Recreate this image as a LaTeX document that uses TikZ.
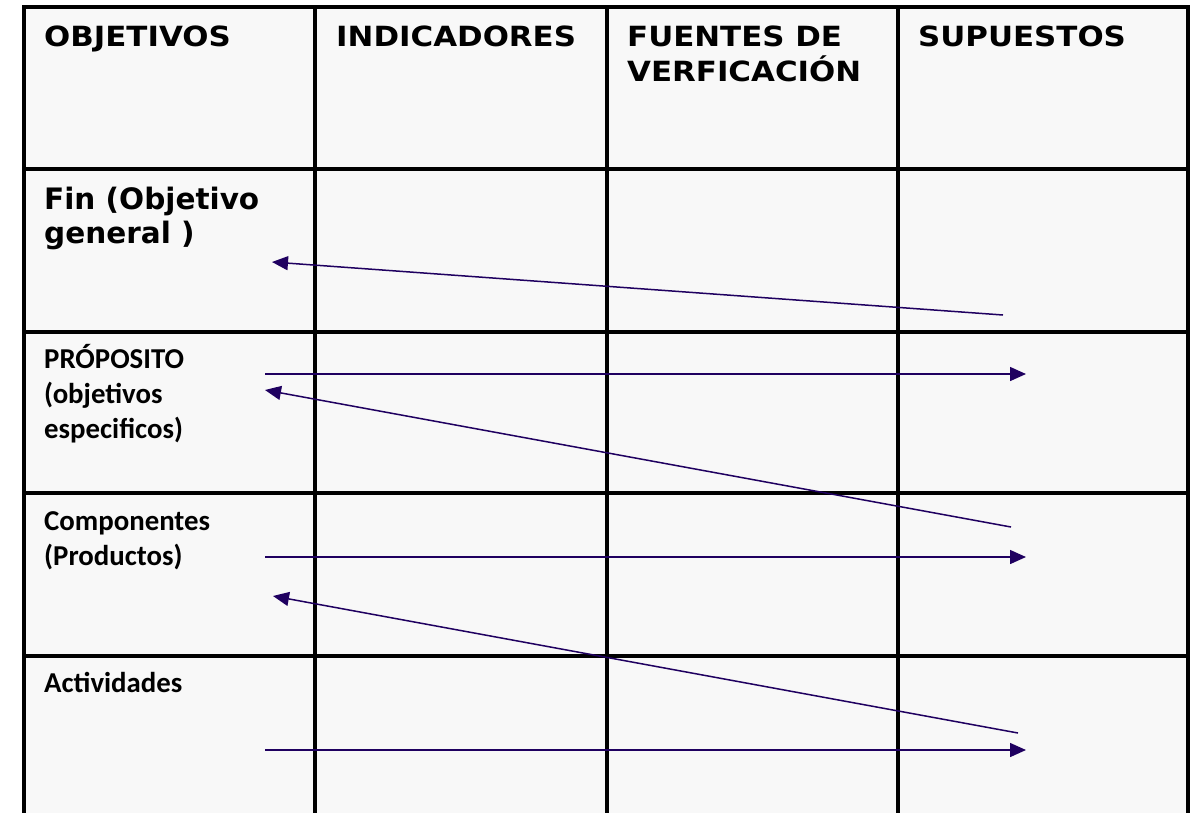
\documentclass[tikz,border=0pt]{standalone}
\usepackage{fontspec}
\usetikzlibrary{arrows.meta}
\newfontfamily\hdrfont{DejaVu Sans}[FakeStretch=1.11]
\newfontfamily\finfont{DejaVu Sans}
\newfontfamily\calfont{Carlito}
\definecolor{cellbg}{RGB}{248,248,248}
\definecolor{arrowc}{RGB}{31,0,96}
\tikzset{
  grid/.style={line width=3.3pt, black},
  hdr/.style={anchor=base west, inner sep=0pt, align=left, font=\hdrfont\bfseries\fontsize{27.8}{35}\selectfont},
  fin/.style={anchor=base west, inner sep=0pt, align=left, font=\finfont\bfseries\fontsize{29.5}{34}\selectfont},
  cal/.style={anchor=base west, inner sep=0pt, align=left, font=\calfont\bfseries\fontsize{28.8}{35}\selectfont},
  link/.style={arrowc, line width=1.5pt, -{Triangle[length=16pt,width=14pt]}},
}
\begin{document}
\begin{tikzpicture}[x=1pt,y=-1pt]
\useasboundingbox (0,0) rectangle (1190,812);
\begin{scope}
\clip (0,0) rectangle (1190,812);
\fill[cellbg] (24,7) rectangle (1188,830);
% horizontal lines
\draw[grid] (24,7) -- (1188,7);
\draw[grid] (24,169) -- (1188,169);
\draw[grid] (24,332) -- (1188,332);
\draw[grid] (24,493) -- (1188,493);
\draw[grid] (24,656) -- (1188,656);
% vertical lines
\draw[grid] (24,5.35) -- (24,830);
\draw[grid] (315,7) -- (315,830);
\draw[grid] (607,7) -- (607,830);
\draw[grid] (898,7) -- (898,830);
\draw[grid] (1188,5.35) -- (1188,830);
\end{scope}
% header texts (base anchor = baseline of the last line)
\node[hdr] (h1) at (44,46) {OBJETIVOS};
\node[hdr] (h2) at (336,46) {INDICADORES};
\node[hdr] (h3) at (627,81) {FUENTES DE\\VERFICACIÓN};
\node[hdr] (h4) at (918,46) {SUPUESTOS};
% row labels
\node[fin] (r1) at (44,243) {Fin (Objetivo\\general )};
\node[cal] (r2) at (44,438) {PRÓPOSITO\\(objetivos\\especificos)};
\node[cal] (r3) at (44,565) {Componentes\\(Productos)};
\node[cal] (r4) at (44,692) {Actividades};
% arrow end points
\coordinate (a1s) at (1003,315);
\coordinate (a1e) at (272,262);
\coordinate (a2s) at (265,374);
\coordinate (a2e) at (1026,374);
\coordinate (a3s) at (1011,527);
\coordinate (a3e) at (265,390);
\coordinate (a4s) at (265,557);
\coordinate (a4e) at (1026,557);
\coordinate (a5s) at (1018,733);
\coordinate (a5e) at (273,596);
\coordinate (a6s) at (265,750);
\coordinate (a6e) at (1026,750);
\draw[link] (a1s) -- (a1e);
\draw[link] (a2s) -- (a2e);
\draw[link] (a3s) -- (a3e);
\draw[link] (a4s) -- (a4e);
\draw[link] (a5s) -- (a5e);
\draw[link] (a6s) -- (a6e);
\end{tikzpicture}
\end{document}
